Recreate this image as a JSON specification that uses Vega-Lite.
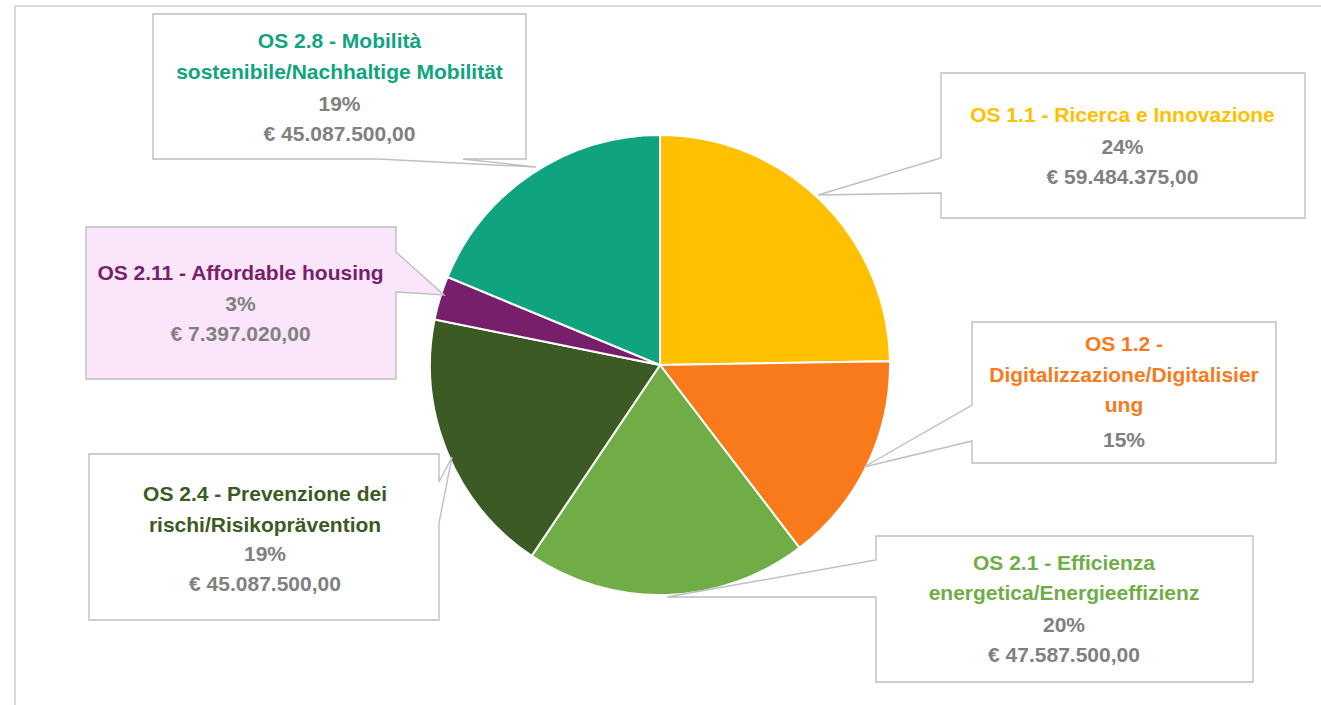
{
  "$schema": "https://vega.github.io/schema/vega-lite/v6.json",
  "width": 1321,
  "height": 705,
  "autosize": {"type": "fit", "contains": "padding"},
  "padding": {"left": 14, "top": 5, "right": -6, "bottom": -6},
  "background": "white",
  "config": {"view": {"stroke": null}},
  "params": [
    {
      "name": "pos",
      "value": {
        "OS 1.1": [462.5, -249, -217.5],
        "OS 1.2": [464, -20, 76],
        "OS 2.1": [404, 198.5, 261],
        "OS 2.4": [-395, 130, 190],
        "OS 2.11": [-419.5, -91.5, -60],
        "OS 2.8": [-320.5, -323, -260.5]
      }
    }
  ],
  "data": {
    "values": [
      {"id": "OS 1.1", "ordine": 1, "importo": 59484375, "titolo": "OS 1.1 - Ricerca e Innovazione", "dettaglio": "24%\n€ 59.484.375,00"},
      {"id": "OS 1.2", "ordine": 2, "importo": 35800000, "titolo": "OS 1.2 -\nDigitalizzazione/Digitalisier\nung", "dettaglio": "15%"},
      {"id": "OS 2.1", "ordine": 3, "importo": 47587500, "titolo": "OS 2.1 - Efficienza\nenergetica/Energieeffizienz", "dettaglio": "20%\n€ 47.587.500,00"},
      {"id": "OS 2.4", "ordine": 4, "importo": 45087500, "titolo": "OS 2.4 - Prevenzione dei\nrischi/Risikoprävention", "dettaglio": "19%\n€ 45.087.500,00"},
      {"id": "OS 2.11", "ordine": 5, "importo": 7397020, "titolo": "OS 2.11 - Affordable housing", "dettaglio": "3%\n€ 7.397.020,00"},
      {"id": "OS 2.8", "ordine": 6, "importo": 45087500, "titolo": "OS 2.8 - Mobilità\nsostenibile/Nachhaltige Mobilität", "dettaglio": "19%\n€ 45.087.500,00"}
    ]
  },
  "layer": [
    {
      "mark": {"type": "rule", "stroke": "#D9D9D9", "strokeWidth": 1.5},
      "encoding": {"x": {"value": 0}}
    },
    {
      "mark": {"type": "rule", "stroke": "#D9D9D9", "strokeWidth": 1.5},
      "encoding": {"y": {"value": 0}}
    },
    {
      "mark": {"type": "arc", "outerRadius": 230, "stroke": "white", "strokeWidth": 2, "xOffset": -10.5, "yOffset": 7},
      "encoding": {
        "theta": {"field": "importo", "type": "quantitative", "stack": true},
        "order": {"field": "ordine", "type": "quantitative"},
        "color": {
          "field": "id",
          "type": "nominal",
          "legend": null,
          "scale": {
            "domain": ["OS 1.1", "OS 1.2", "OS 2.1", "OS 2.4", "OS 2.11", "OS 2.8"],
            "range": ["#FFC000", "#F97A1A", "#70AD47", "#3C5A24", "#781F6B", "#0FA47F"]
          }
        }
      }
    },
    {
      "mark": {"type": "point", "filled": true, "size": 4, "opacity": 1, "stroke": "#BFBFBF", "strokeWidth": 1.4, "xOffset": -10.5, "yOffset": 7},
      "encoding": {
        "shape": {
          "field": "id",
          "type": "nominal",
          "legend": null,
          "scale": {
            "domain": ["OS 1.1", "OS 1.2", "OS 2.1", "OS 2.4", "OS 2.11", "OS 2.8"],
            "range": [
              "M281,-292H645V-147H281V-172L158,-170L281,-207Z",
              "M312,-43H616V98H312V76L204,102L312,40Z",
              "M216,171H593V317H216V232L7,232L216,195Z",
              "M-571,89H-221V117L-208,92L-221,158V255H-571Z",
              "M-574,-138H-264V-113L-216,-70L-264,-73V14H-574Z",
              "M-507,-351H-134V-206H-197L-124,-198L-282,-206H-507Z"
            ]
          }
        },
        "fill": {
          "field": "id",
          "type": "nominal",
          "legend": null,
          "scale": {
            "domain": ["OS 1.1", "OS 1.2", "OS 2.1", "OS 2.4", "OS 2.11", "OS 2.8"],
            "range": ["#FFFFFF", "#FFFFFF", "#FFFFFF", "#FFFFFF", "#FBE5FA", "#FFFFFF"]
          }
        }
      }
    },
    {
      "mark": {
        "type": "text", "align": "center", "baseline": "middle", "font": "Liberation Sans", "fontSize": 21, "fontWeight": "bold",
        "lineBreak": "\n", "lineHeight": 30.5, "xOffset": -10.5, "yOffset": 7,
        "dx": {"expr": "pos[datum.id][0]"}, "dy": {"expr": "pos[datum.id][1]"}
      },
      "encoding": {
        "text": {"field": "titolo", "type": "nominal"},
        "color": {"field": "id", "type": "nominal", "legend": null}
      }
    },
    {
      "mark": {
        "type": "text", "align": "center", "baseline": "middle", "font": "Liberation Sans", "fontSize": 21, "fontWeight": "bold",
        "lineBreak": "\n", "lineHeight": 30, "color": "#808080", "xOffset": -10.5, "yOffset": 7,
        "dx": {"expr": "pos[datum.id][0]"}, "dy": {"expr": "pos[datum.id][2]"}
      },
      "encoding": {
        "text": {"field": "dettaglio", "type": "nominal"}
      }
    }
  ]
}
